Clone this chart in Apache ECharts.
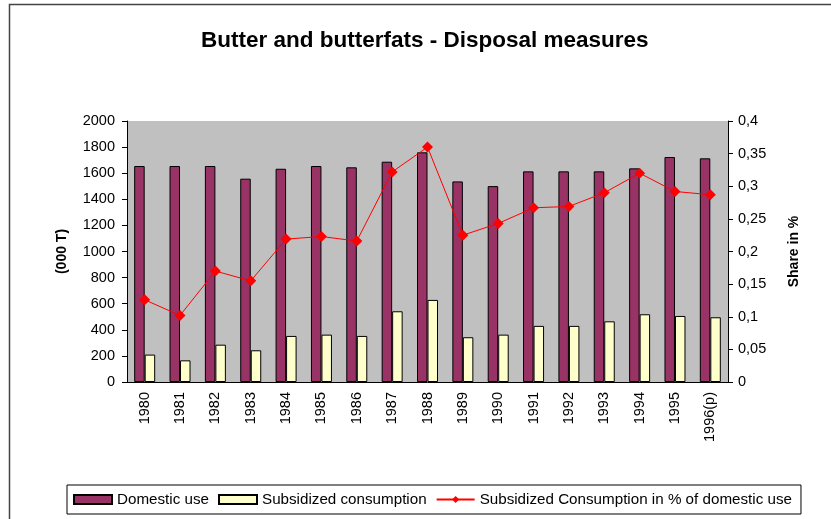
<!DOCTYPE html>
<html>
<head>
<meta charset="utf-8">
<script src="https://cdn.jsdelivr.net/npm/echarts@6/dist/echarts.min.js"></script>
<style>
  html, body { margin: 0; padding: 0; background: #fff; }
  #main { width: 831px; height: 519px; }
</style>
</head>
<body>
<div id="main"></div>
<script>
// data
var years = ['1980', '1981', '1982', '1983', '1984', '1985', '1986', '1987', '1988',
             '1989', '1990', '1991', '1992', '1993', '1994', '1995', '1996(p)'];
var domesticUse = [1655, 1655, 1655, 1558, 1634, 1655, 1645, 1688, 1760,
                   1537, 1501, 1614, 1614, 1614, 1637, 1724, 1714];
var subsidized = [210, 166, 286, 243, 353, 363, 353, 542, 629,
                  343, 363, 430, 430, 465, 519, 506, 496];
var sharePct = [0.126, 0.102, 0.170, 0.155, 0.219, 0.223, 0.216, 0.322, 0.360,
                0.225, 0.243, 0.267, 0.269, 0.290, 0.320, 0.292, 0.287];

var font = 'Arial, "Liberation Sans", sans-serif';
var chart = echarts.init(document.getElementById('main'));

var option = {
    animation: false,
    backgroundColor: '#fff',
    graphic: [{
        type: 'rect',
        shape: { x: 9.5, y: 4.5, width: 900, height: 600 },
        style: { fill: 'none', stroke: '#444', lineWidth: 1.5 },
        silent: true
    }],
    title: {
        text: 'Butter and butterfats - Disposal measures',
        left: 201,
        top: 29,
        padding: 0,
        textStyle: { fontFamily: font, fontSize: 22.5, fontWeight: 'bold', color: '#000' }
    },
    legend: {
        left: 67,
        top: 485,
        padding: [7, 9, 7, 6],
        borderColor: '#000',
        borderWidth: 1,
        itemWidth: 38,
        itemHeight: 9,
        itemGap: 9,
        textStyle: { fontFamily: font, fontSize: 15.2, color: '#000' },
        data: [
            { name: 'Domestic use', icon: 'rect' },
            { name: 'Subsidized consumption', icon: 'rect' },
            { name: 'Subsidized Consumption in % of domestic use' }
        ]
    },
    grid: {
        left: 127,
        right: 103,
        top: 121,
        bottom: 137,
        show: true,
        backgroundColor: '#C0C0C0',
        borderWidth: 0
    },
    xAxis: {
        type: 'category',
        data: years,
        axisLine: { lineStyle: { color: '#000', width: 1 } },
        axisTick: { alignWithLabel: false, length: 5, lineStyle: { color: '#000' } },
        axisLabel: { rotate: 90, margin: 10, fontFamily: font, fontSize: 14.5, color: '#000' }
    },
    yAxis: [{
        type: 'value',
        min: 0,
        max: 2000,
        interval: 200,
        name: '(000 T)',
        nameLocation: 'middle',
        nameGap: 58,
        nameTextStyle: { fontFamily: font, fontSize: 14, fontWeight: 'bold', color: '#000' },
        axisLine: { show: true, lineStyle: { color: '#000' } },
        axisTick: { show: true, length: 5, lineStyle: { color: '#000' } },
        splitLine: { show: false },
        axisLabel: {
            margin: 12, fontFamily: font, fontSize: 14.5, color: '#000',
            formatter: function (v) { return String(v); }
        }
    }, {
        type: 'value',
        min: 0,
        max: 0.4,
        interval: 0.05,
        name: 'Share in %',
        nameLocation: 'middle',
        nameGap: 59,
        nameTextStyle: { fontFamily: font, fontSize: 14, fontWeight: 'bold', color: '#000' },
        axisLine: { show: true, lineStyle: { color: '#000' } },
        axisTick: { show: true, length: 5, lineStyle: { color: '#000' } },
        splitLine: { show: false },
        axisLabel: {
            margin: 10, fontFamily: font, fontSize: 14.5, color: '#000',
            formatter: function (v) { return String(parseFloat(v.toFixed(2))).replace('.', ','); }
        }
    }],
    series: [{
        name: 'Domestic use',
        type: 'bar',
        barWidth: 10.5,
        barGap: '0%',
        itemStyle: { color: '#993366', borderColor: '#000', borderWidth: 1 },
        data: domesticUse
    }, {
        name: 'Subsidized consumption',
        type: 'bar',
        barWidth: 10.5,
        itemStyle: { color: '#FFFFCC', borderColor: '#000', borderWidth: 1 },
        data: subsidized
    }, {
        name: 'Subsidized Consumption in % of domestic use',
        type: 'line',
        yAxisIndex: 1,
        symbol: 'diamond',
        symbolSize: 11,
        lineStyle: { color: '#FF0000', width: 1 },
        itemStyle: { color: '#FF0000' },
        data: sharePct
    }]
};

chart.setOption(option);
</script>
</body>
</html>
